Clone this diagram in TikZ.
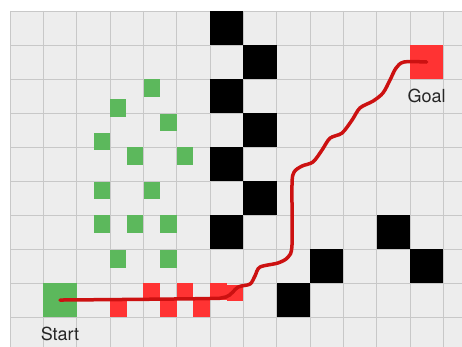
\documentclass[tikz,border=0pt]{standalone}
\usepackage{fontspec}
\setmainfont{TeX Gyre Heros}
\usetikzlibrary{positioning}
\definecolor{GridClr}{RGB}{237,237,237}
\definecolor{LineClr}{RGB}{200,200,200}
\definecolor{StartClr}{RGB}{92,184,92}
\definecolor{GoalClr}{RGB}{255,51,51}
\definecolor{RouteClr}{RGB}{204,17,17}

\begin{document}
\begin{tikzpicture}[x=33.33pt,y=-34pt,
  cellbox/.style={minimum width=33.33pt,minimum height=34pt,inner sep=0pt,outer sep=0pt},
  tag/.style={font=\fontsize{18}{20}\selectfont,text=black!85,inner sep=2pt},
  route/.style={RouteClr,line width=3.5pt,line cap=round,line join=round}]
\useasboundingbox (-0.3,-0.3235) rectangle (13.56,9.88);

\fill[GridClr] (0,0) rectangle (13.56,9.88);
\foreach \c in {0,...,13} \draw[LineClr,line width=.8pt] (\c,0) -- (\c,9.88);
\foreach \r in {0,...,9} \draw[LineClr,line width=.8pt] (0,\r) -- (13.56,\r);

% walls
\foreach \c/\r in {6/0,6/2,6/4,6/6,7/1,7/3,7/5,8/8,9/7,11/6,12/7}
  \fill[black] (\c,\r) rectangle ++(1,1);

% green cloud
\foreach \x/\y in {4.26/2.26,3.24/2.85,4.76/3.28,2.76/3.84,3.75/4.26,5.25/4.26,
  2.76/5.28,4.26/5.28,2.76/6.26,3.75/6.26,4.76/6.26,3.24/7.29,4.76/7.29}
  \fill[StartClr] (\x,\y) ++(-.25,-.26) rectangle ++(.5,.52);

% red steps
\foreach \x/\y in {3/8.5,4/8,4.5/8.5,5/8,5.5/8.5,6/8,6.5/8.05}
  \fill[GoalClr] (\x,\y) rectangle ++(.5,.49);

\node[cellbox,fill=StartClr] (start) at (1.5,8.5) {};
\node[cellbox,fill=GoalClr] (goal) at (12.5,1.5) {};
\node[tag,below=7.5pt of start] (startlbl) {Start};
\node[tag,below=7.5pt of goal] (goallbl) {Goal};

\draw[route] plot[smooth,tension=.5] coordinates {(start.center) (5.7,8.46) (6.48,8.41)
  (6.84,8.12) (7.2,8.03) (7.35,7.79) (7.5,7.53) (8.04,7.41) (8.34,7.24) (8.46,6.88)
  (8.46,5.12) (8.52,4.74) (8.76,4.56) (9.09,4.44) (9.36,4.09) (9.6,3.74) (9.96,3.59)
  (10.26,3.21) (10.5,2.85) (10.89,2.65) (11.19,2.41) (11.4,2.03) (11.58,1.68)
  (11.82,1.5) (goal.center)};

\end{tikzpicture}
\end{document}
